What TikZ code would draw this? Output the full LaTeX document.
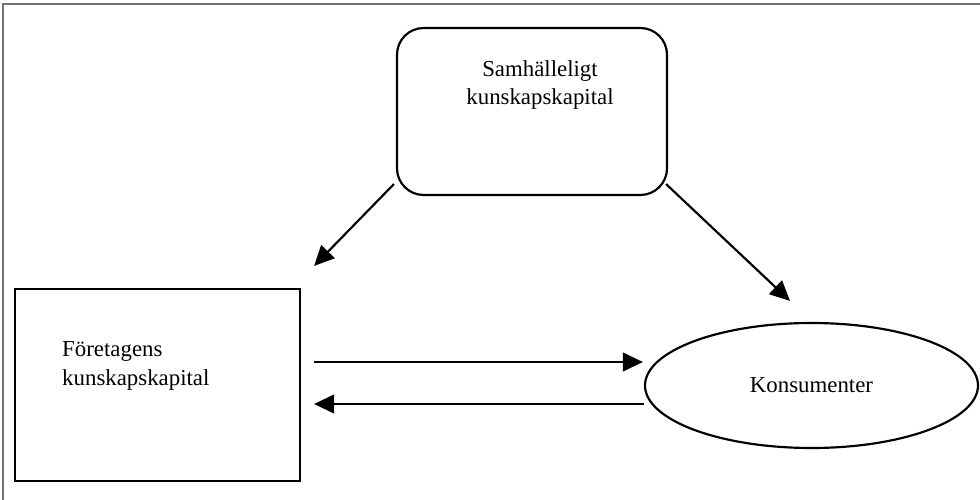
\documentclass[tikz,border=0pt]{standalone}
\usepackage{fontspec}
\setmainfont{Liberation Serif}
\usetikzlibrary{positioning,arrows.meta,calc,shapes.geometric}

\begin{document}
\begin{tikzpicture}[
  x=0.3mm, y=-0.3mm,
  font=\fontsize{19.5}{24}\selectfont,
  >={Triangle[length=6mm,width=5.6mm]},
  box/.style={draw, line width=0.65mm, inner sep=0pt},
  txt/.style={align=left, inner sep=0pt},
  arr/.style={line width=0.65mm, ->},
]
  \useasboundingbox (0,0) rectangle (980,500);
  % frame, only top and left edge
  \draw[black!55, line width=0.45mm] (3,500) -- (3,4) -- (980,4);
  % the three actors
  \node[box, rounded corners=8mm, minimum width=81mm, minimum height=50.1mm]
    (samh) at (532,111.5) {};
  \node[txt, align=center] (samhtxt) at (540,85) {Samhälleligt\\kunskapskapital};
  \node[box, minimum width=85.5mm, minimum height=57.6mm] (fore) at (157.5,385) {};
  \node[txt, anchor=west] (foretxt) at (62,366) {Företagens\\kunskapskapital};
  \node[box, ellipse, minimum width=99.9mm, minimum height=37.5mm]
    (kons) at (811.5,385.5) {Konsumenter};
  % free arrow ends
  \coordinate (ltip) at ($(fore.north east)+(13,-22)$);
  \coordinate (rtip) at ($(kons.north)+(-21.5,-21)$);
  % arrows
  \draw[arr] ($(samh.south west)+(-2,-12)$) -- (ltip);
  \draw[arr] ($(samh.south east)+(-2,-12)$) -- (rtip);
  \draw[arr] ($(fore.east)+(13,-23)$) -- ($(kons.west)+(-1,-23.5)$);
  \draw[arr] ($(kons.west)+(0,18.5)$) -- ($(fore.east)+(13,19)$);
\end{tikzpicture}
\end{document}
